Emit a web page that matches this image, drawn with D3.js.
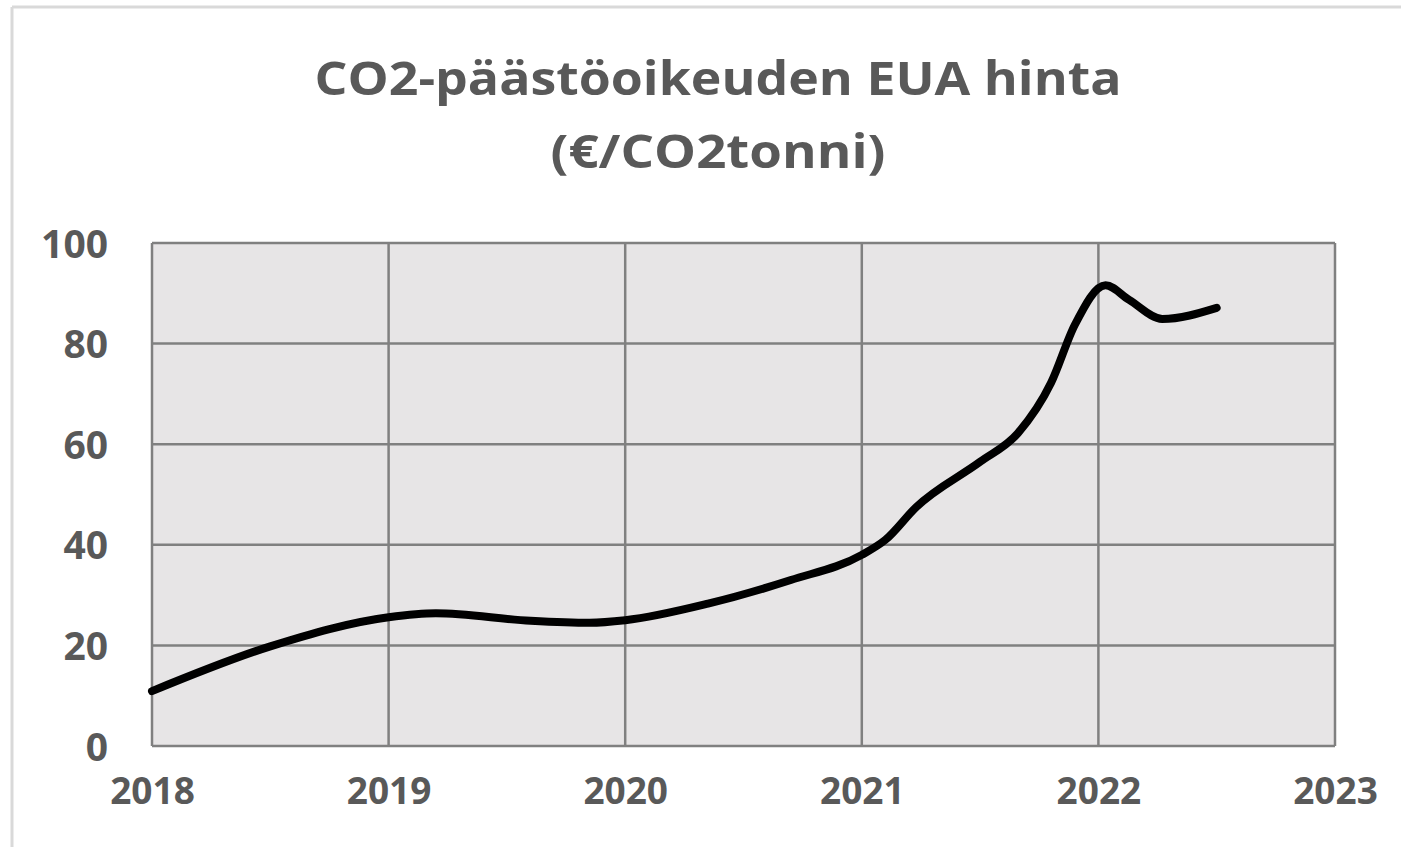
<!DOCTYPE html>
<html lang="fi">
<head>
<meta charset="UTF-8"/>
<title>CO2-päästöoikeuden EUA hinta</title>
<script src="https://cdn.jsdelivr.net/npm/d3@7"></script>
<style>
body { margin: 0; background: #fff; }
text { font-family: "Open Sans", sans-serif; font-weight: bold; fill: #595959; }
.grid line { stroke: #808080; stroke-width: 2.5px; }
</style>
</head>
<body>
<svg id="chart"></svg>
<script>
// chart data
var years  = [2018.00, 2018.50, 2019.00, 2019.20, 2019.60, 2019.85, 2020.00, 2020.35, 2020.70,
              2021.00, 2021.10, 2021.23, 2021.50, 2021.66, 2021.80, 2021.90,
              2022.03, 2022.13, 2022.27, 2022.50];
var prices = [10.9, 19.8, 25.6, 26.4, 24.9, 24.5, 25.0, 28.3, 33.0,
              38.0, 41.0, 47.5, 56.5, 62.2, 72.2, 83.7,
              91.6, 88.7, 84.9, 87.1];
var xTicks = [2018, 2019, 2020, 2021, 2022, 2023];
var yTicks = [0, 20, 40, 60, 80, 100];
var titleLines = ["CO2-päästöoikeuden EUA hinta", "(€/CO2tonni)"];
var titleWidths = [807, 335];   // wide title lettering as in the original

var width = 1401, height = 847;
var margin = {top: 243, right: 66, bottom: 101, left: 152};

var svg = d3.select("#chart")
    .attr("width", width)
    .attr("height", height);

// outer chart frame (only top and left edge visible)
svg.append("line").attr("x1", 12).attr("y1", 7).attr("x2", width).attr("y2", 7)
    .attr("stroke", "#d9d9d9").attr("stroke-width", 3);
svg.append("line").attr("x1", 12).attr("y1", 7).attr("x2", 12).attr("y2", height)
    .attr("stroke", "#d9d9d9").attr("stroke-width", 3);

var x = d3.scaleLinear().domain([2018, 2023]).range([margin.left, width - margin.right]);
var y = d3.scaleLinear().domain([0, 100]).range([height - margin.bottom, margin.top]);

// plot background
svg.append("rect")
    .attr("x", x(2018)).attr("y", y(100))
    .attr("width", x(2023) - x(2018)).attr("height", y(0) - y(100))
    .attr("fill", "#e7e5e6");

// grid
var grid = svg.append("g").attr("class", "grid");
grid.selectAll(".hline").data(yTicks).enter().append("line")
    .attr("x1", x(2018)).attr("x2", x(2023))
    .attr("y1", function(d) { return y(d); })
    .attr("y2", function(d) { return y(d); });
grid.selectAll(".vline").data(xTicks).enter().append("line")
    .attr("y1", y(0)).attr("y2", y(100))
    .attr("x1", function(d) { return x(d); })
    .attr("x2", function(d) { return x(d); });

// axes (labels only)
var yAxis = svg.append("g")
    .attr("transform", "translate(" + (margin.left - 44) + ",0)")
    .call(d3.axisLeft(y).tickValues(yTicks).tickSize(0).tickPadding(0));
yAxis.select(".domain").remove();
yAxis.selectAll("text")
    .attr("font-size", 39).attr("dy", "0.36em")
    .style("font-family", "'Open Sans', sans-serif").style("font-weight", "bold").attr("fill", "#595959");

var xAxis = svg.append("g")
    .attr("transform", "translate(0," + (y(0) + 30) + ")")
    .call(d3.axisBottom(x).tickValues(xTicks).tickFormat(d3.format("d")).tickSize(0).tickPadding(0));
xAxis.select(".domain").remove();
xAxis.selectAll("text")
    .attr("font-size", 37).attr("dy", "0.76em")
    .style("font-family", "'Open Sans', sans-serif").style("font-weight", "bold").attr("fill", "#595959");

// price line (smoothed like the spreadsheet original)
var data = years.map(function(d, i) { return {year: d, price: prices[i]}; });
var line = d3.line()
    .x(function(d) { return x(d.year); })
    .y(function(d) { return y(d.price); })
    .curve(d3.curveMonotoneX);

svg.append("path")
    .datum(data)
    .attr("d", line)
    .attr("fill", "none")
    .attr("stroke", "#000")
    .attr("stroke-width", 8)
    .attr("stroke-linecap", "round")
    .attr("stroke-linejoin", "round");

// title
svg.selectAll(".title").data(titleLines).enter().append("text")
    .attr("class", "title")
    .attr("x", 718)
    .attr("y", function(d, i) { return 95 + i * 73; })
    .attr("text-anchor", "middle")
    .attr("font-size", 47)
    .attr("textLength", function(d, i) { return titleWidths[i]; })
    .attr("lengthAdjust", "spacingAndGlyphs")
    .text(function(d) { return d; });
</script>
</body>
</html>
